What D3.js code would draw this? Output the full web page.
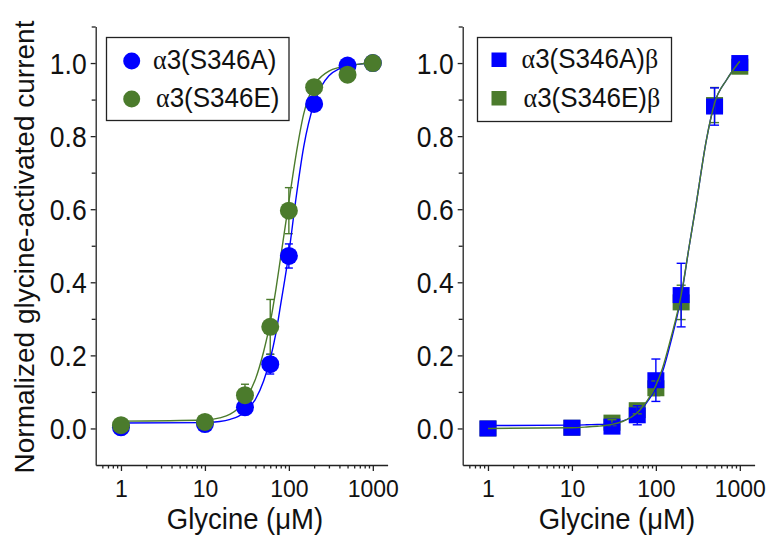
<!DOCTYPE html>
<html><head><meta charset="utf-8">
<script src="https://cdn.jsdelivr.net/npm/d3@7"></script>
<style>
html,body{margin:0;padding:0;background:#fff;}
svg{display:block;}
text{font-family:"Liberation Sans", Arial, Helvetica, sans-serif;fill:#111;}
</style></head>
<body>
<svg id="chart" width="777" height="540"></svg>
<script>
// ---------- data ----------
const conc = [1, 10, 30, 60, 100, 200, 500, 1000];           // glycine, µM
// left panel: alpha3 homomers (circles)
const aS346A     = [0.003, 0.012, 0.058, 0.176, 0.472, 0.888, 0.993, 1.0];
const aS346A_sem = [0, 0, 0.005, 0.027, 0.033, 0.01, 0.005, 0];
const aS346E     = [0.009, 0.018, 0.091, 0.278, 0.596, 0.934, 0.968, 1.0];
const aS346E_sem = [0.005, 0.005, 0.03, 0.075, 0.063, 0.017, 0.01, 0];
// right panel: alpha3-beta heteromers (squares)
const abS346A     = [0.0, 0.002, 0.005, 0.036, 0.132, 0.365, 0.881, 1.0];
const abS346A_sem = [0, 0, 0.005, 0.026, 0.058, 0.087, 0.051, 0];
const abS346E     = [0.0, 0.002, 0.016, 0.05, 0.11, 0.345, 0.885, 0.99];
const abS346E_sem = [0, 0, 0.008, 0.01, 0.02, 0.047, 0.048, 0];
// fitted curves
const fitConc   = [1, 10, 15, 20, 25, 30, 40, 50, 60, 70, 80, 100, 120, 150, 200, 250, 300, 400, 500, 700, 1000];
const fitAS346A = [0.015,0.016,0.019,0.025,0.033,0.046,0.08,0.13,0.19,0.26,0.34,0.48,0.62,0.77,0.89,0.94,0.965,0.985,0.992,0.997,1.0];
const fitAS346E = [0.02,0.023,0.029,0.039,0.055,0.078,0.135,0.21,0.29,0.38,0.47,0.62,0.74,0.86,0.94,0.965,0.978,0.988,0.993,0.997,1.0];
const fitABS346A = [0.008,0.009,0.01,0.011,0.012,0.014,0.02,0.03,0.042,0.057,0.075,0.11,0.155,0.235,0.36,0.5,0.61,0.79,0.89,0.955,1.005];
const fitABS346E = [0.0,0.002,0.004,0.006,0.008,0.011,0.019,0.03,0.043,0.06,0.078,0.118,0.165,0.245,0.365,0.5,0.61,0.79,0.89,0.955,1.005];
// ticks & labels
const xMajor = [1, 10, 100, 1000];
const xMinor = [0.6,0.7,0.8,0.9,2,3,4,5,6,7,8,9,20,30,40,50,60,70,80,90,200,300,400,500,600,700,800,900];
const yMajor = [0, 0.2, 0.4, 0.6, 0.8, 1.0];
const yMinor = [0.1, 0.3, 0.5, 0.7, 0.9, 1.1];
const xTitle = "Glycine (\u03bcM)";
const yTitle = "Normalized glycine-activated current";
const legendLeft  = ["3(S346A)", "3(S346E)"];
const legendRight = ["3(S346A)", "3(S346E)"];

const BLUE = "#0000ff", GREEN = "#4b7b2c";
const SANS = '"Liberation Sans", Arial, sans-serif';

// ---------- layout ----------
const svg = d3.select("#chart");
svg.append("rect").attr("width",777).attr("height",540).attr("fill","#fff");

const y = d3.scaleLinear().domain([-0.1, 1.1]).range([465, 26.5]);
const xL = d3.scaleLog().domain([0.5, 1500]).range([95.7, 387.6]);
const xR = d3.scaleLog().domain([0.5, 1500]).range([462.7, 754.6]);

function axes(x) {
  const gx = svg.append("g").attr("transform", `translate(0,${y.range()[0]})`)
    .call(d3.axisBottom(x).tickValues(xMajor).tickFormat(d3.format("d")).tickSize(6).tickSizeOuter(0).tickPadding(8));
  gx.selectAll("text").attr("font-size", 23).style("font-family", SANS).attr("transform", "scale(1,1.06)");
  const gxm = svg.append("g").attr("transform", `translate(0,${y.range()[0]})`)
    .call(d3.axisBottom(x).tickValues(xMinor).tickFormat("").tickSize(3.5).tickSizeOuter(0));
  gxm.select(".domain").remove();
  const gy = svg.append("g").attr("transform", `translate(${x.range()[0]},0)`)
    .call(d3.axisLeft(y).tickValues(yMajor).tickFormat(d3.format(".1f")).tickSize(5).tickSizeOuter(0).tickPadding(4));
  gy.selectAll("text").attr("font-size", 26.5).attr("dy", "0.36em").style("font-family", SANS).attr("transform", "scale(1,1.08)");
  const gym = svg.append("g").attr("transform", `translate(${x.range()[0]},0)`)
    .call(d3.axisLeft(y).tickValues(yMinor).tickFormat("").tickSize(4).tickSizeOuter(0));
  gym.select(".domain").remove();
  svg.selectAll(".domain, .tick line").attr("stroke", "#222").attr("stroke-width", 1.3);
  svg.selectAll(".tick text").attr("fill", "#111");
}
axes(xL); axes(xR);

// axis titles
svg.append("text").attr("transform","translate(245,528.5) scale(1,1.1)").attr("text-anchor","middle").attr("font-size", 27.5).text(xTitle);
svg.append("text").attr("transform","translate(617,528.5) scale(1,1.1)").attr("text-anchor","middle").attr("font-size", 27.5).text(xTitle);
svg.append("text").attr("transform","translate(34,247) rotate(-90)").attr("text-anchor","middle").attr("font-size", 28).text(yTitle);

// helpers
function curve(x, vals, color) {
  const line = d3.line().x((d,i)=>x(fitConc[i])).y(d=>y(d)).curve(d3.curveMonotoneX);
  svg.append("path").attr("d", line(vals)).attr("fill","none").attr("stroke",color).attr("stroke-width",1.4);
}
function errbars(x, vals, sem, color, cap) {
  const g = svg.append("g").attr("stroke", color).attr("stroke-width", 1.4);
  conc.forEach((c,i)=>{
    if (!sem[i]) return;
    const cx = x(c), y1 = y(vals[i]-sem[i]), y2 = y(vals[i]+sem[i]);
    g.append("line").attr("x1",cx).attr("x2",cx).attr("y1",y1).attr("y2",y2);
    g.append("line").attr("x1",cx-cap).attr("x2",cx+cap).attr("y1",y1).attr("y2",y1);
    g.append("line").attr("x1",cx-cap).attr("x2",cx+cap).attr("y1",y2).attr("y2",y2);
  });
}
function circles(x, vals, color) {
  svg.append("g").selectAll("circle").data(vals).join("circle")
    .attr("cx",(d,i)=>x(conc[i])).attr("cy",d=>y(d)).attr("r",9).attr("fill",color);
}
function squares(x, vals, color) {
  svg.append("g").selectAll("rect").data(vals).join("rect")
    .attr("x",(d,i)=>x(conc[i])-8.5).attr("y",d=>y(d)-8).attr("width",17).attr("height",16).attr("fill",color);
}

// ---------- left panel ----------
errbars(xL, aS346A, aS346A_sem, BLUE, 4);
errbars(xL, aS346E, aS346E_sem, GREEN, 4);
curve(xL, fitAS346A, BLUE);
curve(xL, fitAS346E, GREEN);
circles(xL, aS346A, BLUE);
circles(xL, aS346E, GREEN);

// ---------- right panel ----------
squares(xR, abS346E, GREEN);
squares(xR, abS346A, BLUE);
errbars(xR, abS346E, abS346E_sem, GREEN, 4.5);
errbars(xR, abS346A, abS346A_sem, BLUE, 4.5);
curve(xR, fitABS346A, BLUE);
curve(xR, fitABS346E, GREEN);

// ---------- legends ----------
function legendText(xp, yp, label, beta) {
  const t = svg.append("text").attr("transform", `translate(${xp},${yp}) scale(1,1.06)`).attr("font-size", 26);
  t.append("tspan").style("font-family", '"Liberation Serif", "Times New Roman", serif').text("\u03b1");
  t.append("tspan").text(label);
  if (beta) t.append("tspan").style("font-family", '"Liberation Serif", "Times New Roman", serif').text("\u03b2");
}
svg.append("rect").attr("x",106.5).attr("y",37.5).attr("width",182.5).attr("height",83).attr("fill","#fff").attr("stroke","#222").attr("stroke-width",1.3);
svg.append("circle").attr("cx",131.7).attr("cy",61).attr("r",8.5).attr("fill",BLUE);
svg.append("circle").attr("cx",131.7).attr("cy",99).attr("r",8.5).attr("fill",GREEN);
legendText(153, 69, legendLeft[0], false);
legendText(156, 107, legendLeft[1], false);

svg.append("rect").attr("x",477.5).attr("y",37.5).attr("width",194).attr("height",84).attr("fill","#fff").attr("stroke","#222").attr("stroke-width",1.3);
svg.append("rect").attr("x",491.5).attr("y",52.5).attr("width",15).attr("height",14.5).attr("fill",BLUE);
svg.append("rect").attr("x",491.5).attr("y",91).attr("width",15).attr("height",14.5).attr("fill",GREEN);
legendText(521.5, 68, legendRight[0], true);
legendText(523.5, 106.5, legendRight[1], true);
</script>
</body></html>
